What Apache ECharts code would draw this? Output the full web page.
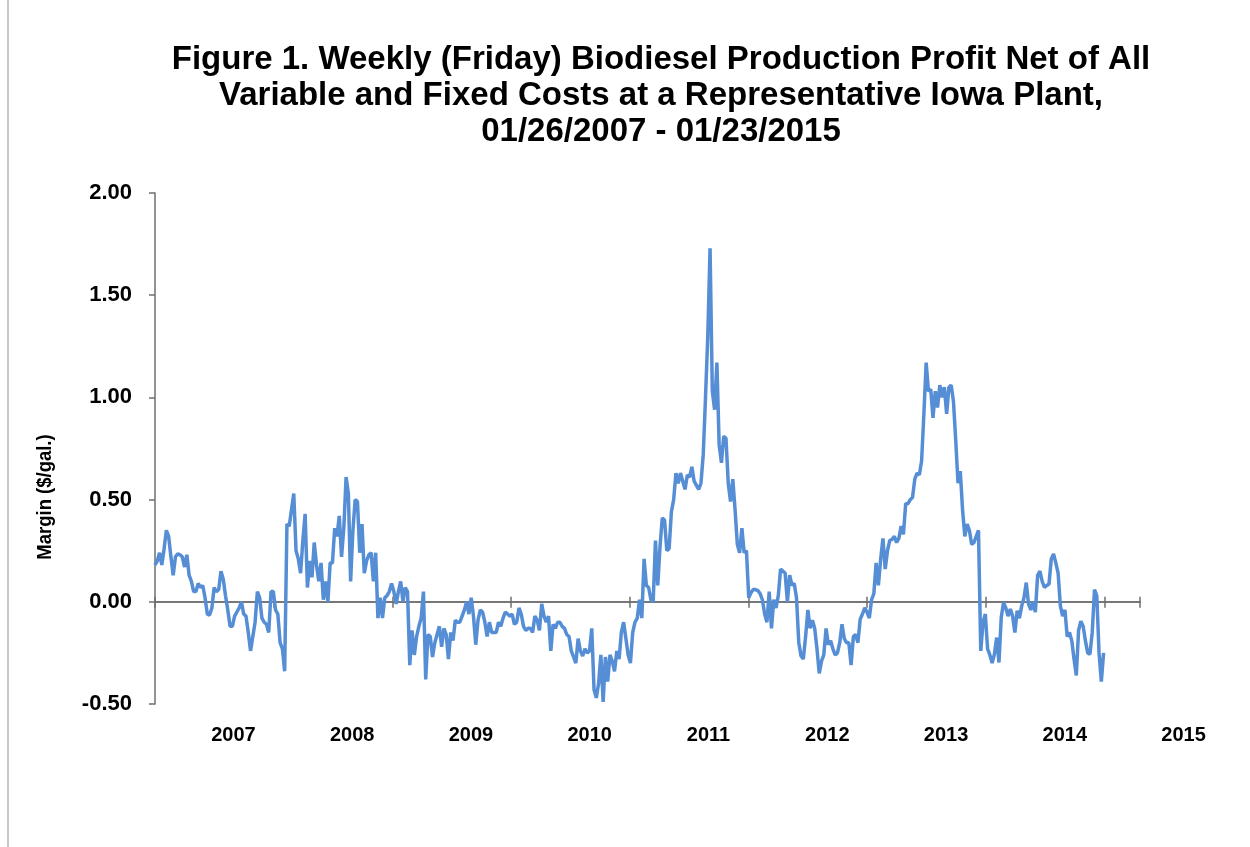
<!DOCTYPE html>
<html>
<head>
<meta charset="utf-8">
<script src="https://cdn.jsdelivr.net/npm/echarts@6/dist/echarts.min.js"></script>
<style>
  html, body { margin: 0; padding: 0; background: #fff; }
  #chart { width: 1250px; height: 847px; }
</style>
</head>
<body>
<div id="chart"></div>
<script>
// weekly (Friday) margins, $/gal, starting 01/26/2007 - one block of ~52 weeks each
const margin2007 = [0.18, 0.20, 0.24, 0.18, 0.26, 0.35, 0.32, 0.22, 0.13, 0.22, 0.235, 0.23, 0.22,
  0.17, 0.23, 0.13, 0.10, 0.05, 0.05, 0.09, 0.07, 0.08, 0.02, -0.06, -0.065, -0.03, 0.07, 0.05, 0.06,
  0.15, 0.11, 0.03, -0.04, -0.12, -0.12, -0.07, -0.05, -0.03, 0.00, -0.06, -0.07, -0.15, -0.24, -0.17,
  -0.10, 0.05, 0.02, -0.08, -0.10, -0.11, -0.15, 0.05];
const margin2008 = [0.05, -0.04, -0.06, -0.20, -0.23, -0.34, 0.38, 0.37, 0.45, 0.53, 0.25, 0.21, 0.14,
  0.30, 0.43, 0.07, 0.20, 0.12, 0.29, 0.18, 0.10, 0.19, 0.01, 0.10, 0.00, 0.19, 0.19, 0.36, 0.32, 0.42,
  0.22, 0.36, 0.61, 0.53, 0.10, 0.35, 0.50, 0.49, 0.24, 0.38, 0.14, 0.20, 0.23, 0.24, 0.10, 0.24, -0.08,
  0.02, -0.08, 0.02, 0.03, 0.05];
const margin2009 = [0.09, 0.05, -0.01, 0.05, 0.10, 0.00, 0.07, 0.05, -0.31, -0.14, -0.26, -0.17, -0.12,
  -0.08, 0.05, -0.38, -0.16, -0.17, -0.27, -0.20, -0.16, -0.12, -0.22, -0.13, -0.16, -0.28, -0.15, -0.19,
  -0.09, -0.10, -0.10, -0.07, -0.04, 0.00, -0.06, 0.02, -0.07, -0.21, -0.09, -0.04, -0.05, -0.10, -0.17,
  -0.10, -0.15, -0.15, -0.15, -0.10, -0.12, -0.08, -0.05, -0.06];
const margin2010 = [-0.07, -0.06, -0.11, -0.10, -0.03, -0.06, -0.12, -0.14, -0.13, -0.13, -0.15, -0.07,
  -0.09, -0.14, -0.01, -0.07, -0.10, -0.07, -0.24, -0.11, -0.13, -0.10, -0.10, -0.12, -0.13, -0.16, -0.17,
  -0.24, -0.27, -0.30, -0.18, -0.24, -0.265, -0.23, -0.25, -0.24, -0.13, -0.43, -0.47, -0.40, -0.26, -0.49,
  -0.27, -0.39, -0.26, -0.29, -0.34, -0.24, -0.28, -0.15, -0.10, -0.18];
const margin2011 = [-0.26, -0.30, -0.15, -0.10, -0.08, 0.01, -0.08, 0.21, 0.08, 0.07, 0.01, 0.00, 0.30,
  0.08, 0.27, 0.41, 0.40, 0.25, 0.26, 0.44, 0.50, 0.63, 0.58, 0.63, 0.59, 0.55, 0.62, 0.61, 0.66, 0.59,
  0.57, 0.55, 0.58, 0.72, 1.00, 1.30, 1.73, 1.03, 0.94, 1.17, 0.77, 0.68, 0.81, 0.80, 0.58, 0.49, 0.60,
  0.45, 0.28, 0.24, 0.36, 0.24];
const margin2012 = [0.25, 0.02, 0.045, 0.06, 0.06, 0.055, 0.04, 0.01, -0.06, -0.10, 0.05, -0.13, 0.01,
  -0.03, 0.03, 0.16, 0.15, 0.14, 0.00, 0.13, 0.08, 0.09, 0.02, -0.20, -0.265, -0.28, -0.17, -0.04, -0.13,
  -0.09, -0.13, -0.23, -0.35, -0.29, -0.26, -0.13, -0.21, -0.19, -0.23, -0.26, -0.25, -0.20, -0.11, -0.18,
  -0.20, -0.20, -0.31, -0.17, -0.16, -0.20, -0.085, -0.06];
const margin2013 = [-0.03, -0.05, -0.08, 0.01, 0.04, 0.19, 0.08, 0.21, 0.31, 0.16, 0.25, 0.30, 0.305,
  0.32, 0.29, 0.31, 0.37, 0.33, 0.48, 0.48, 0.50, 0.51, 0.60, 0.63, 0.62, 0.69, 0.92, 1.17, 1.03, 1.04,
  0.90, 1.03, 0.95, 1.06, 1.00, 1.05, 0.92, 1.05, 1.06, 0.98, 0.79, 0.58, 0.64, 0.45, 0.32, 0.38, 0.35,
  0.28, 0.29, 0.32, 0.35, -0.24];
const margin2014 = [-0.10, -0.06, -0.23, -0.26, -0.30, -0.256, -0.175, -0.297, -0.077, -0.003, -0.03,
  -0.07, -0.036, -0.07, -0.15, -0.044, -0.08, -0.02, 0.02, 0.094, -0.01, -0.04, 0.00, -0.05, 0.13, 0.15,
  0.10, 0.07, 0.08, 0.087, 0.21, 0.234, 0.19, 0.14, -0.02, -0.07, -0.04, -0.17, -0.15, -0.19, -0.28, -0.36,
  -0.14, -0.095, -0.12, -0.19, -0.25, -0.256, -0.15, 0.06, 0.03, -0.25, -0.39, -0.25];

const yearLabels = ['2007', '2008', '2009', '2010', '2011', '2012', '2013', '2014', '2015'];
const yTicks = { min: -0.5, max: 2, interval: 0.5 };

const margins = [].concat(margin2007, margin2008, margin2009, margin2010,
  margin2011, margin2012, margin2013, margin2014);
const lineData = margins.map((v, i) => [i, v]);

const chart = echarts.init(document.getElementById('chart'));

const axisColor = '#6f6f6f';
const font = '"Liberation Sans", Arial, sans-serif';
const weeksPerTick = 52.18;
const plotBox = { left: 155, top: 193, width: 985, height: 511 };

// x axis sitting on zero; tickInside draws the upper half of the cross ticks
function zeroXAxis(gridIndex, tickInside) {
  return {
    type: 'value',
    gridIndex: gridIndex,
    min: 0,
    max: 433,
    interval: weeksPerTick,
    axisLine: { onZero: true, lineStyle: { color: axisColor, width: 1.5 } },
    axisTick: { show: true, inside: tickInside, length: tickInside ? 5 : 6,
      lineStyle: { color: axisColor, width: 1.5 } },
    axisLabel: { show: false },
    splitLine: { show: false }
  };
}

const option = {
  backgroundColor: '#ffffff',
  animation: false,
  title: {
    text: 'Figure 1. Weekly (Friday) Biodiesel Production Profit Net of All\n' +
      'Variable and Fixed Costs at a Representative Iowa Plant,\n' +
      '01/26/2007 - 01/23/2015',
    left: 656,
    top: 37,
    textAlign: 'center',
    textStyle: {
      fontFamily: font,
      fontWeight: 'bold',
      fontSize: 33,
      lineHeight: 36,
      color: '#000'
    }
  },
  grid: [
    plotBox,
    Object.assign({}, plotBox),
    // only carries the year labels under the plot
    { left: 174, top: 697, width: 1069, height: 20 }
  ],
  xAxis: [
    zeroXAxis(0, false),
    zeroXAxis(1, true),
    {
      type: 'category',
      gridIndex: 2,
      data: yearLabels,
      boundaryGap: true,
      axisLine: { show: false },
      axisTick: { show: false },
      axisLabel: {
        margin: 8,
        fontFamily: font,
        fontWeight: 'bold',
        fontSize: 20,
        color: '#000'
      }
    }
  ],
  yAxis: [
    {
      type: 'value',
      gridIndex: 0,
      min: yTicks.min,
      max: yTicks.max,
      interval: yTicks.interval,
      axisLine: { show: true, onZero: false, lineStyle: { color: axisColor, width: 1.5 } },
      axisTick: { show: true, inside: false, length: 6, lineStyle: { color: axisColor, width: 1.5 } },
      axisLabel: {
        margin: 23,
        formatter: v => v.toFixed(2),
        fontFamily: font,
        fontWeight: 'bold',
        fontSize: 22,
        color: '#000'
      },
      splitLine: { show: false }
    },
    { type: 'value', gridIndex: 1, min: yTicks.min, max: yTicks.max, show: false },
    { type: 'value', gridIndex: 2, show: false }
  ],
  graphic: [
    {
      type: 'line',
      shape: { x1: 8, y1: 0, x2: 8, y2: 847 },
      style: { stroke: '#c9c9c9', lineWidth: 2 }
    },
    {
      type: 'text',
      x: 45,
      y: 497,
      rotation: Math.PI / 2,
      scaleX: 0.88,
      style: {
        text: 'Margin ($/gal.)',
        fontFamily: font,
        fontWeight: 'bold',
        fontSize: 21,
        fill: '#000',
        align: 'center',
        verticalAlign: 'middle'
      }
    }
  ],
  series: [
    {
      name: 'Margin',
      type: 'line',
      xAxisIndex: 0,
      yAxisIndex: 0,
      data: lineData,
      showSymbol: false,
      lineStyle: { color: '#558ed5', width: 3.5 },
      z: 3
    }
  ]
};

chart.setOption(option);
window.addEventListener('resize', () => chart.resize());
</script>
</body>
</html>
